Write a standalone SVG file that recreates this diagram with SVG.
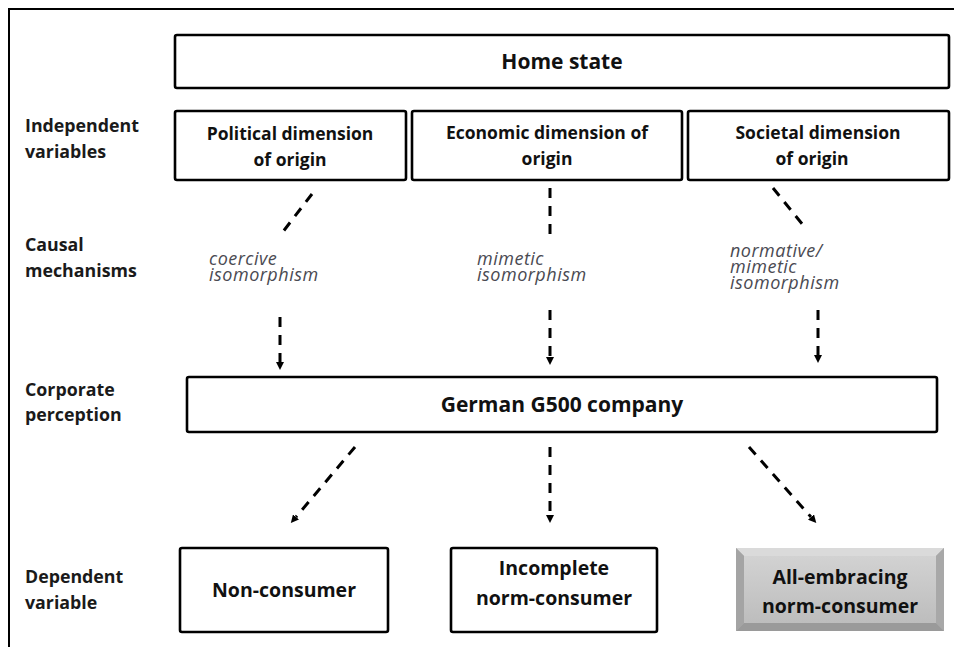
<svg xmlns="http://www.w3.org/2000/svg" width="954" height="647" viewBox="0 0 954 647">
<style>
.box{fill:#fff;stroke:#000;stroke-width:2.6}
.lbl{font-family:"Open Sans","Liberation Sans",sans-serif;font-weight:700;font-size:17.8px;fill:#1a1a1a}
.bt{font-family:"Open Sans","Liberation Sans",sans-serif;font-weight:700;font-size:17.5px;fill:#111;text-anchor:middle}
.big{font-family:"Open Sans","Liberation Sans",sans-serif;font-weight:700;font-size:21px;fill:#111;text-anchor:middle}
.dep{font-family:"Open Sans","Liberation Sans",sans-serif;font-weight:700;font-size:19.5px;fill:#111;text-anchor:middle}
.it{font-family:"Open Sans","Liberation Sans",sans-serif;font-style:italic;font-size:18px;fill:#4a4a52;letter-spacing:0.5px}
.dash{fill:none;stroke:#000;stroke-width:3;stroke-dasharray:10 8}
</style>
<defs>
<marker id="ah" viewBox="0 0 10 10" refX="0" refY="5" markerWidth="8" markerHeight="8" markerUnits="userSpaceOnUse" orient="auto">
<path d="M0,0 L10,5 L0,10 z" fill="#000"/>
</marker>
<linearGradient id="face" x1="0" y1="0" x2="0" y2="1">
<stop offset="0" stop-color="#d2d2d2"/>
<stop offset="1" stop-color="#bdbdbd"/>
</linearGradient>
</defs>
<rect width="954" height="647" fill="#fff"/>
<path d="M9,647 L9,9 L954,9" fill="none" stroke="#000" stroke-width="2"/>

<g id="row-labels">
<text class="lbl" x="25" y="132">Independent</text>
<text class="lbl" x="25" y="158">variables</text>
<text class="lbl" x="25" y="251">Causal</text>
<text class="lbl" x="25" y="277">mechanisms</text>
<text class="lbl" x="25" y="396">Corporate</text>
<text class="lbl" x="25" y="421">perception</text>
<text class="lbl" x="25" y="583">Dependent</text>
<text class="lbl" x="25" y="609">variable</text>
</g>

<g id="home-state">
<rect class="box" x="175" y="35" width="774" height="53" rx="2"/>
<text class="big" x="562" y="69">Home state</text>
</g>

<g id="political">
<rect class="box" x="175" y="111" width="231" height="69" rx="2"/>
<text class="bt" x="290" y="140">Political dimension</text>
<text class="bt" x="290" y="166">of origin</text>
</g>

<g id="economic">
<rect class="box" x="412" y="111" width="270" height="69" rx="2"/>
<text class="bt" x="547" y="139">Economic dimension of</text>
<text class="bt" x="547" y="165">origin</text>
</g>

<g id="societal">
<rect class="box" x="688" y="111" width="261" height="69" rx="2"/>
<text class="bt" x="818" y="139">Societal dimension</text>
<text class="bt" x="812" y="165">of origin</text>
</g>

<g id="mechanism-labels">
<text class="it"><tspan x="209" y="265">coercive</tspan><tspan x="209" y="281">isomorphism</tspan></text>
<text class="it"><tspan x="477" y="265">mimetic</tspan><tspan x="477" y="281">isomorphism</tspan></text>
<text class="it"><tspan x="730" y="257">normative/</tspan><tspan x="730" y="273">mimetic</tspan><tspan x="730" y="289">isomorphism</tspan></text>
</g>

<g id="company">
<rect class="box" x="187" y="377" width="750" height="55" rx="2"/>
<text class="big" x="562" y="412">German G500 company</text>
</g>

<g id="non-consumer">
<rect class="box" x="180" y="548" width="208" height="84" rx="2"/>
<text class="dep" x="284" y="597">Non-consumer</text>
</g>

<g id="incomplete">
<rect class="box" x="451" y="548" width="206" height="84" rx="2"/>
<text class="dep" x="554" y="575">Incomplete</text>
<text class="dep" x="554" y="605">norm-consumer</text>
</g>

<g id="all-embracing">
<rect x="736" y="548" width="208" height="83" fill="#b4b4b4"/>
<polygon points="736,548 944,548 936,556 744,556" fill="#dadada"/>
<polygon points="736,548 744,556 744,623 736,631" fill="#a4a4a4"/>
<polygon points="944,548 944,631 936,623 936,556" fill="#a8a8a8"/>
<polygon points="736,631 944,631 936,623 744,623" fill="#9a9a9a"/>
<rect x="744" y="556" width="192" height="67" fill="url(#face)"/>
<text class="dep" x="840" y="584">All-embracing</text>
<text class="dep" x="840" y="613">norm-consumer</text>
</g>

<g id="connectors">
<line class="dash" x1="312" y1="194" x2="282" y2="233"/>
<line class="dash" x1="550" y1="188" x2="550" y2="242"/>
<line class="dash" x1="773" y1="188" x2="803" y2="225"/>
<line class="dash" x1="280" y1="317" x2="280" y2="362" marker-end="url(#ah)"/>
<line class="dash" x1="550" y1="310" x2="550" y2="357" marker-end="url(#ah)"/>
<line class="dash" x1="818" y1="310" x2="818" y2="355" marker-end="url(#ah)"/>
<line class="dash" x1="355" y1="447" x2="296" y2="517" marker-end="url(#ah)"/>
<line class="dash" x1="550" y1="447" x2="550" y2="515" marker-end="url(#ah)"/>
<line class="dash" x1="749" y1="447" x2="811" y2="517" marker-end="url(#ah)"/>
</g>
</svg>
